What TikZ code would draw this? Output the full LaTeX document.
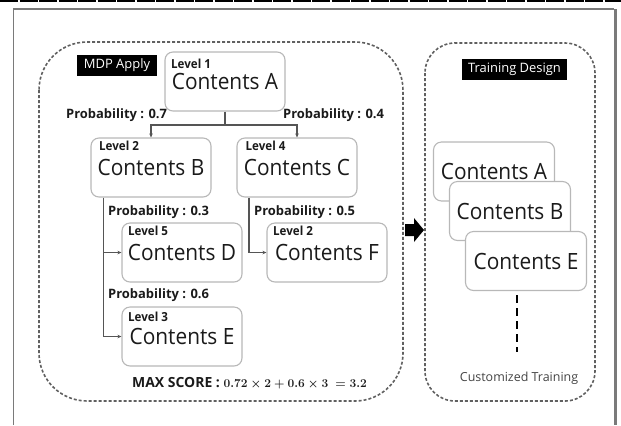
\documentclass[tikz,border=0pt]{standalone}
\usepackage{fontspec}
\setmainfont{Open Sans}
\newfontfamily\cfont[FakeStretch=0.93]{Open Sans}
\usetikzlibrary{arrows.meta,calc}
\definecolor{boxgray}{HTML}{B8B8B8}
\definecolor{conncol}{HTML}{555555}
\definecolor{dashcol}{HTML}{606060}
\definecolor{framecol}{HTML}{7A7A7A}
\definecolor{textc}{HTML}{1A1A1A}
\definecolor{softtext}{HTML}{444444}
\begin{document}
\begin{tikzpicture}[x=1bp,y=-1bp,
  box/.style={draw=boxgray,line width=1.1bp,rounded corners=8bp,fill=white,
    minimum width=120bp,minimum height=59bp,inner sep=0pt,
    font=\cfont\fontsize{22.5}{22.5}\selectfont,text=textc},
  lvl/.style={anchor=west,inner sep=0pt,text=textc,font=\cfont\bfseries\fontsize{12.5}{13}\selectfont},
  prob/.style={anchor=west,inner sep=0pt,text=textc,font=\bfseries\fontsize{13}{13}\selectfont},
  conn/.style={draw=conncol,line width=1.2bp},
  tip/.style={-{Stealth[length=4bp,width=3.5bp]}},
  region/.style={draw=dashcol,line width=1.6bp,dash pattern=on 3bp off 2bp},
  tag/.style={fill=black,text=white,inner sep=0pt,font=\fontsize{13}{13}\selectfont}
]
\useasboundingbox (0,0) rectangle (621,425);
% page frame
\draw[black,line width=1.5bp,dash pattern=on 18bp off 1.5bp] (0,1) -- (621,1);
\draw[framecol,line width=1.8bp] (13.5,425) -- (13.5,9) -- (614,9);
\draw[framecol,line width=3bp] (615,9) -- (615,425);
% regions
\draw[region,rounded corners=48bp] (39,42) rectangle (403,401);
\draw[region,rounded corners=30bp] (425,43) rectangle (595,401);
% tags
\node[tag,minimum width=80bp,minimum height=21.5bp] (t1) at (117,65.5) {MDP Apply};
\node[tag,minimum width=105bp,minimum height=21bp] (t2) at (514.5,69.5) {Training Design};
% tree nodes
\node[box] (A) at (225,81.5) {Contents A};
\node[box] (B) at (151,167.5) {Contents B};
\node[box] (C) at (297,167.5) {Contents C};
\node[box] (D) at (182,252.5) {Contents D};
\node[box] (F) at (327,252.5) {Contents F};
\node[box] (E) at (182,336.5) {Contents E};
% level labels
\node[lvl] (lA) at (171,63.5) {Level 1};
\node[lvl] (lB) at (99,145.6) {Level 2};
\node[lvl] (lC) at (245.5,146) {Level 4};
\node[lvl] (lD) at (128,230.6) {Level 5};
\node[lvl] (lF) at (273,230.6) {Level 2};
\node[lvl] (lE) at (128,316.5) {Level 3};
% probabilities
\node[prob] (p7) at (66,115.6) {Probability : 0.7};
\node[prob] (p4) at (283,115) {Probability : 0.4};
\node[prob] (p3) at (108,212) {Probability : 0.3};
\node[prob] (p5) at (254,212) {Probability : 0.5};
\node[prob] (p6) at (108,295) {Probability : 0.6};
% connectors
\coordinate (jA) at ($(A.south)+(0,13.5)$);
\draw[conn] (A.south) -- (jA);
\draw[conn,tip] (jA) -| (B.north);
\draw[conn,tip] (jA) -| (C.north);
\coordinate (bB) at ([xshift=13bp]B.south west);
\draw[conn,tip] (bB) |- (D.west);
\draw[conn,tip] (bB) |- (E.west);
\coordinate (bC) at ([xshift=12.5bp]C.south west);
\draw[conn,tip] (bC) |- (F.west);
% score
\node[anchor=west,inner sep=0pt,text=textc,font=\bfseries\fontsize{14}{14}\selectfont] (ms) at (132,383)
  {MAX SCORE : {\fontsize{12}{12}\selectfont\boldmath$0.72\times 2+0.6\times 3\ =3.2$}};
% big arrow
\fill[black] (405,224) -- (414,224) -- (414,218) -- (424,230) -- (414,242) -- (414,236) -- (405,236) -- cycle;
% training stack
\node[box,minimum width=121bp] (RA) at (494,171.5) {Contents A};
\node[box,minimum width=121bp] (RB) at (510,211) {Contents B};
\node[box,minimum width=121bp] (RE) at (526,261) {Contents E};
\coordinate (d1) at (517,295);
\coordinate (d2) at (517,352);
\draw[black,line width=2bp,dash pattern=on 8bp off 5bp] (d1) -- (d2);
\node[text=softtext,inner sep=0pt,font=\fontsize{12.5}{13}\selectfont] (ct) at (519,378) {Customized Training};
\end{tikzpicture}
\end{document}
